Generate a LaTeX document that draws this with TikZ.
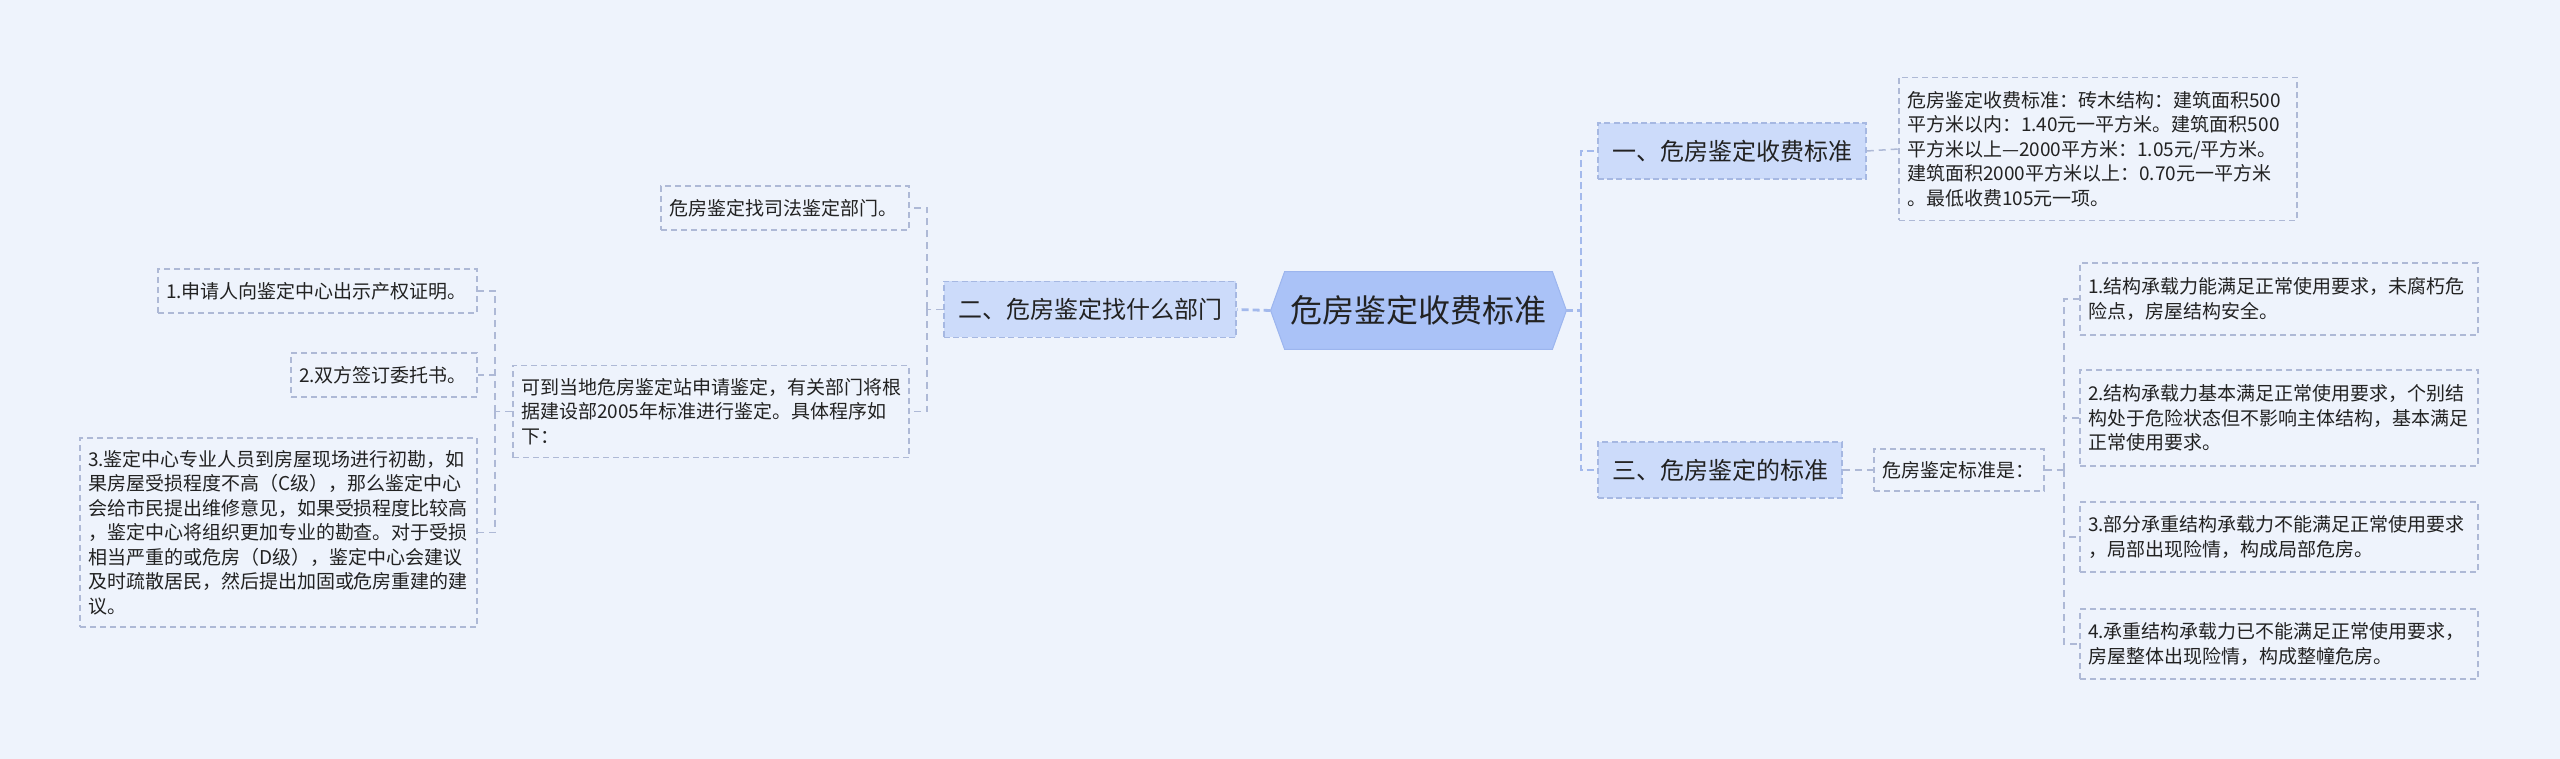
\documentclass[tikz,border=0pt]{standalone}
\usepackage{fontspec}
\newfontfamily\cjk{Noto Sans CJK SC}
\definecolor{bgc}{HTML}{EEF3FC}
\definecolor{txtc}{HTML}{222222}
\definecolor{rootfill}{HTML}{AAC2F7}
\definecolor{rootline}{HTML}{9CB5EE}
\definecolor{branchfill}{HTML}{CCDBFA}
\definecolor{branchline}{HTML}{A6B8E2}
\definecolor{leafline}{HTML}{AEB9D6}
\definecolor{trunkc}{HTML}{A3B9EC}
\begin{document}
\begin{tikzpicture}[x=0.5pt,y=-0.5pt,
  rootbox/.style={minimum width=133.5pt,minimum height=38.5pt,inner sep=0pt,
    font=\cjk\fontsize{16pt}{19pt}\selectfont,text=txtc},
  branch/.style={draw=branchline,fill=branchfill,line width=0.75pt,
    dash pattern=on 3pt off 1.6pt,minimum height=28pt,inner xsep=0pt,inner ysep=0pt,
    font=\cjk\fontsize{12pt}{14pt}\selectfont,text=txtc},
  leaf/.style={draw=leafline,line width=0.7pt,dash pattern=on 3pt off 2pt,
    inner xsep=4pt,inner ysep=0pt,align=left,
    font=\cjk\fontsize{9.5pt}{12.25pt}\selectfont,text=txtc},
  trunk/.style={draw=trunkc,line width=1.4pt,dash pattern=on 3.5pt off 2pt},
  twig/.style={draw=leafline,line width=0.75pt,dash pattern=on 3.5pt off 2.5pt}
]
\useasboundingbox (0,0) rectangle (2560,759);
\fill[bgc] (0,0) rectangle (2560,759);

% root
\node[rootbox] (root) at (1418.5,310.5) {};
\filldraw[fill=rootfill,draw=rootline,line width=0.5pt]
  (root.north west) -- (root.north east) -- ([xshift=7pt]root.east)
  -- (root.south east) -- (root.south west) -- ([xshift=-7pt]root.west) -- cycle;
\node[rootbox] at (root.center) {危房鉴定收费标准};

% branches
\node[branch,minimum width=134pt] (b1) at (1732,151) {一、危房鉴定收费标准};
\node[branch,minimum width=122pt] (b3) at (1720,470) {三、危房鉴定的标准};
\node[branch,minimum width=146pt] (b2) at (1090,309.5) {二、危房鉴定找什么部门};

% right leaves
\node[leaf,text width=191pt,minimum height=71.5pt] (d1) at (2098,149)
 {危房鉴定收费标准：砖木结构：建筑面积500\\平方米以内：1.40元一平方米。建筑面积500\\平方米以上—2000平方米：1.05元/平方米。\\建筑面积2000平方米以上：0.70元一平方米\\。最低收费105元一项。};
\node[leaf,text width=77pt,minimum height=21pt] (std) at (1959,470) {危房鉴定标准是：};
\node[leaf,text width=191pt,minimum height=36pt] (i1) at (2279,299)
 {1.结构承载力能满足正常使用要求，未腐朽危\\险点，房屋结构安全。};
\node[leaf,text width=191pt,minimum height=48pt] (i2) at (2279,418)
 {2.结构承载力基本满足正常使用要求，个别结\\构处于危险状态但不影响主体结构，基本满足\\正常使用要求。};
\node[leaf,text width=191pt,minimum height=35pt] (i3) at (2279,537)
 {3.部分承重结构承载力不能满足正常使用要求\\，局部出现险情，构成局部危房。};
\node[leaf,text width=191pt,minimum height=35pt] (i4) at (2279,644)
 {4.承重结构承载力已不能满足正常使用要求，\\房屋整体出现险情，构成整幢危房。};

% left leaves
\node[leaf,text width=116pt,minimum height=22pt] (s1) at (785,208) {危房鉴定找司法鉴定部门。};
\node[leaf,text width=190pt,minimum height=46pt] (s2) at (711,411.5)
 {可到当地危房鉴定站申请鉴定，有关部门将根\\据建设部2005年标准进行鉴定。具体程序如\\下：};
\node[leaf,text width=151.5pt,minimum height=22pt] (p1) at (317.5,291) {1.申请人向鉴定中心出示产权证明。};
\node[leaf,text width=85pt,minimum height=22pt] (p2) at (384,375) {2.双方签订委托书。};
\node[leaf,text width=190.5pt,minimum height=94.5pt] (p3) at (278.5,532.5)
 {3.鉴定中心专业人员到房屋现场进行初勘，如\\果房屋受损程度不高（C级），那么鉴定中心\\会给市民提出维修意见，如果受损程度比较高\\，鉴定中心将组织更加专业的勘查。对于受损\\相当严重的或危房（D级），鉴定中心会建议\\及时疏散居民，然后提出加固或危房重建的建\\议。};

% junctions
\coordinate (rj) at (1581,310.5);
\coordinate (sj) at (2064,470);
\coordinate (lj) at (927,309.5);
\coordinate (pj) at (495,411.5);

% connectors
\draw[trunk] ([xshift=7pt]root.east) -- (rj);
\draw[trunk] (rj) |- (b1.west);
\draw[trunk] (rj) |- (b3.west);
\draw[trunk] ([xshift=-7pt]root.west) -- (b2.east);

\draw[twig] (b1.east) -- (d1.west);
\draw[twig] (b3.east) -- (std.west);
\draw[twig] (std.east) -- (sj);
\draw[twig] (sj) |- (i1.west);
\draw[twig] (sj) |- (i2.west);
\draw[twig] (sj) |- (i3.west);
\draw[twig] (sj) |- (i4.west);

\draw[twig] (b2.west) -- (lj);
\draw[twig] (lj) |- (s1.east);
\draw[twig] (lj) |- (s2.east);
\draw[twig] (s2.west) -- (pj);
\draw[twig] (pj) |- (p1.east);
\draw[twig] (pj) |- (p2.east);
\draw[twig] (pj) |- (p3.east);
\end{tikzpicture}
\end{document}
